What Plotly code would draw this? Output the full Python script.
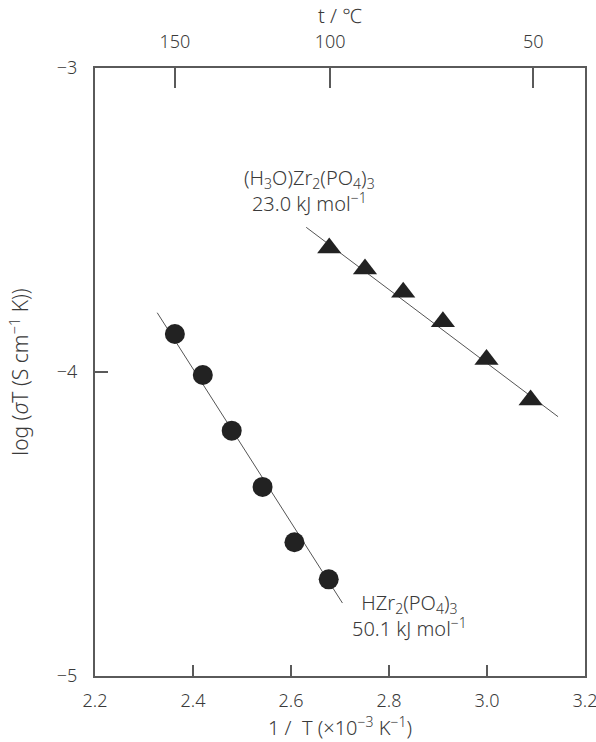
import plotly.graph_objects as go

# --- data ---
hzr_x = [2.363, 2.420, 2.479, 2.542, 2.607, 2.677]
hzr_y = [-3.875, -4.010, -4.193, -4.378, -4.560, -4.682]
hzr_fit_x = [2.327, 2.705]
hzr_fit_y = [-3.805, -4.760]

h3o_x = [2.678, 2.751, 2.829, 2.910, 2.999, 3.089]
h3o_y = [-3.592, -3.661, -3.738, -3.835, -3.959, -4.092]
h3o_fit_x = [2.631, 3.145]
h3o_fit_y = [-3.524, -4.147]

x_ticks = [2.2, 2.4, 2.6, 2.8, 3.0, 3.2]
x_ticklabels = ["2.2", "2.4", "2.6", "2.8", "3.0", "3.2"]
y_ticks = [-3, -4, -5]
y_ticklabels = ["\u22123", "\u22124", "\u22125"]
top_temps_C = [150, 100, 50]
top_ticklabels = ["150", "100", "50"]
top_tick_pos = [1000.0 / (t + 273.15) for t in top_temps_C]

FONT = "Noto Sans"
TXT = "#3a3a3a"
AX = "#5a5a5a"
FS = 20
TFS = 18


def fnt(size=FS):
    return dict(family=FONT, size=size, color=TXT, weight=300)


fig = go.Figure()
fig.add_trace(go.Scatter(x=hzr_fit_x, y=hzr_fit_y, mode="lines",
                         line=dict(color="#555555", width=1), showlegend=False))
fig.add_trace(go.Scatter(x=h3o_fit_x, y=h3o_fit_y, mode="lines",
                         line=dict(color="#555555", width=1), showlegend=False))
fig.add_trace(go.Scatter(x=hzr_x, y=hzr_y, mode="markers",
                         marker=dict(symbol="circle", size=20, color="#222222"),
                         showlegend=False))
fig.add_trace(go.Scatter(x=h3o_x, y=h3o_y, mode="markers",
                         marker=dict(symbol="triangle-up", size=21, color="#222222"),
                         showlegend=False))
# invisible trace to anchor top axis
fig.add_trace(go.Scatter(x=[2.2, 3.2], y=[-5, -5], xaxis="x2", mode="markers",
                         marker=dict(opacity=0), showlegend=False, hoverinfo="skip"))

fig.add_annotation(x=2.638, y=-3.402, xref="x", yref="y",
                   text="(H<sub>3</sub>O)Zr<sub>2</sub>(PO<sub>4</sub>)<sub>3</sub><br>23.0 kJ mol<sup>\u22121</sup>",
                   showarrow=False, align="center", font=fnt())
fig.add_annotation(x=2.842, y=-4.800, xref="x", yref="y",
                   text="HZr<sub>2</sub>(PO<sub>4</sub>)<sub>3</sub><br>50.1 kJ mol<sup>\u22121</sup>",
                   showarrow=False, align="center", font=fnt())

fig.update_layout(
    width=596, height=742,
    margin=dict(l=95, r=11, t=68, b=66, autoexpand=False),
    paper_bgcolor="white", plot_bgcolor="white",
    font=fnt(),
    xaxis=dict(range=[2.2, 3.2], tickvals=x_ticks, ticktext=x_ticklabels,
               ticks="inside", ticklen=11, tickwidth=1.5, tickcolor=AX,
               showline=True, linecolor=AX, linewidth=2, mirror=True,
               showgrid=False, zeroline=False, ticklabeloverflow="allow",
               automargin=False,
               ticklabelstandoff=7, tickfont=fnt(TFS),
               title=dict(text="1 /\u00a0 T (\u00d710<sup>\u22123</sup> K<sup>\u22121</sup>)",
                          font=fnt(), standoff=0)),
    xaxis2=dict(range=[2.2, 3.2], overlaying="x", side="top", anchor="y",
                tickvals=top_tick_pos, ticktext=top_ticklabels,
                ticks="inside", ticklen=20, tickwidth=1.5, tickcolor=AX,
                showline=False, showgrid=False, zeroline=False,
                automargin=False,
                ticklabeloverflow="allow", ticklabelstandoff=15, tickfont=fnt(TFS),
                title=dict(text="t / \u2103", font=fnt(), standoff=0)),
    yaxis=dict(range=[-5, -3], tickvals=y_ticks, ticktext=y_ticklabels,
               ticks="inside", ticklen=13, tickwidth=1.5, tickcolor=AX,
               showline=True, linecolor=AX, linewidth=2, mirror=True,
               showgrid=False, zeroline=False, ticklabeloverflow="allow",
               automargin=False,
               ticklabelstandoff=12, tickfont=fnt(TFS),
               title=dict(text="log (<i>\u03c3</i>T (S cm<sup>\u22121</sup> K))",
                          font=fnt(21), standoff=22)),
)

fig.write_html("out.html")
